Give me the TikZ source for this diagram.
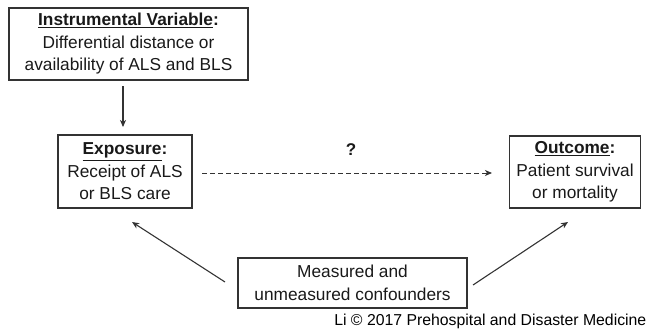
\documentclass[tikz,border=0pt]{standalone}
\usepackage{fontspec}
\setmainfont{Liberation Sans}
\usetikzlibrary{arrows.meta}
\begin{document}
\begin{tikzpicture}[x=1pt,y=-1pt,
  box/.style={draw=black!80, line width=1.2pt, align=center, inner sep=0pt,
    font=\fontsize{17.3}{22.5}\selectfont, text=black!90},
  conn/.style={draw=black!80, line width=1.1pt, -{Stealth[length=7pt,width=6pt,inset=2pt]}},
  ]
\useasboundingbox (0,0) rectangle (647,330);
\node[box, minimum width=239pt, minimum height=72pt] (iv) at (128.5,44)
  {\textbf{\underline{Instrumental Variable}:}\\Differential distance or\\availability of ALS and BLS};
\node[box, minimum width=134pt, minimum height=73pt] (exp) at (125,171.5)
  {\textbf{\underline{Exposure}:}\\Receipt of ALS\\or BLS care};
\node[box, minimum width=131pt, minimum height=72pt] (out) at (575,172)
  {\textbf{\underline{Outcome}:}\\Patient survival\\or mortality};
\node[box, minimum width=229pt, minimum height=50pt] (conf) at (352.5,283)
  {Measured and\\unmeasured confounders};
\node[font=\fontsize{17}{19}\selectfont\bfseries, text=black!90] (q) at (351,150) {?};
\node[font=\fontsize{15.8}{18}\selectfont, text=black, anchor=base east, inner xsep=0pt] (cap) at (646.5,325)
  {Li © 2017 Prehospital and Disaster Medicine};
\coordinate (ivs) at (123,86);
\coordinate (ive) at (123,127);
\draw[conn] (ivs) -- (ive);
\coordinate (ds) at (202,173);
\coordinate (de) at (492,173);
\draw[conn, dashed, dash pattern=on 5pt off 3pt, line width=1pt] (ds) -- (de);
\coordinate (ls) at (225,282);
\coordinate (le) at (132,222);
\draw[conn] (ls) -- (le);
\coordinate (rs) at (473,285);
\coordinate (re) at (568,222);
\draw[conn] (rs) -- (re);
\end{tikzpicture}
\end{document}
